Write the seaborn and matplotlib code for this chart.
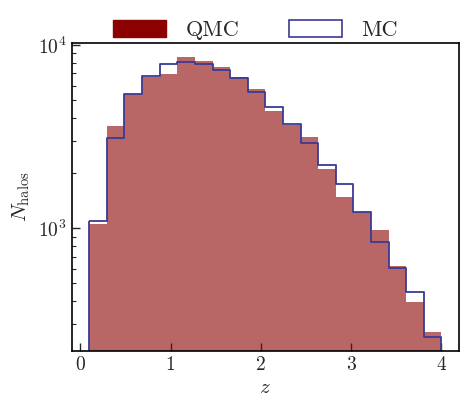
import numpy as np
import pandas as pd
import matplotlib
matplotlib.use("Agg")
import matplotlib.pyplot as plt
import seaborn as sns
from matplotlib.patches import Patch

# Data
bin_edges = [round(0.1 + 0.195 * i, 4) for i in range(21)]
qmc_counts = [1059, 3614, 5380, 6700, 6965, 8600, 8185, 7590, 6680, 5754,
              4365, 3680, 3150, 2099, 1487, 1222, 979, 622, 398, 272]
mc_counts = [1092, 3097, 5420, 6745, 7850, 8045, 7870, 7280, 6580, 5520,
             4590, 3706, 2913, 2207, 1738, 1222, 839, 605, 448, 255]
labels = ["QMC", "MC"]

centers = [0.5 * (a + b) for a, b in zip(bin_edges[:-1], bin_edges[1:])]
df_q = pd.DataFrame({"z": centers, "n": qmc_counts})
df_m = pd.DataFrame({"z": centers, "n": mc_counts})

sns.set_style("ticks")
plt.rcParams["font.family"] = ["serif"]
plt.rcParams["font.serif"] = ["cmr10", "DejaVu Serif"]
plt.rcParams["mathtext.fontset"] = "cm"
plt.rcParams["axes.formatter.use_mathtext"] = True
plt.rcParams["axes.unicode_minus"] = False

fig = plt.figure(figsize=(4.68, 4.13), dpi=100)
ax = fig.add_axes([0.153, 0.150, 0.828, 0.746])

qcol = "#8b0000"
mcol = "#3a3a96"
sns.histplot(data=df_q, x="z", weights="n", bins=bin_edges, element="bars",
             fill=True, color=qcol, alpha=0.6, linewidth=0, ax=ax)
sns.histplot(data=df_m, x="z", weights="n", bins=bin_edges, element="step",
             fill=True, color=mcol, facecolor="none", edgecolor=mcol,
             linewidth=1.3, ax=ax)

ax.set_yscale("log")
ax.set_ylim(214, 10250)
ax.set_xlim(-0.095, 4.195)
ax.set_xticks([0, 1, 2, 3, 4])
ax.set_xlabel(r"$z$", fontsize=15)
ax.set_ylabel(r"$N_{\rm halos}$", fontsize=15)
ax.tick_params(axis="both", which="both", direction="in", labelsize=14)
ax.tick_params(axis="both", which="major", length=6, width=1)
ax.tick_params(axis="y", which="minor", length=3, width=0.8)
for s in ax.spines.values():
    s.set_linewidth(1.2)
    s.set_color("black")

handles = [Patch(facecolor=qcol, edgecolor=qcol, label=labels[0]),
           Patch(facecolor="white", edgecolor=mcol, linewidth=1.2, label=labels[1])]
ax.legend(handles=handles, loc="lower center", bbox_to_anchor=(0.475, 0.98),
          ncol=2, frameon=False, fontsize=16, handlelength=2.35,
          handleheight=0.85, handletextpad=0.9, columnspacing=2.25,
          borderaxespad=0.0)

fig.savefig("out.png", dpi=100)
